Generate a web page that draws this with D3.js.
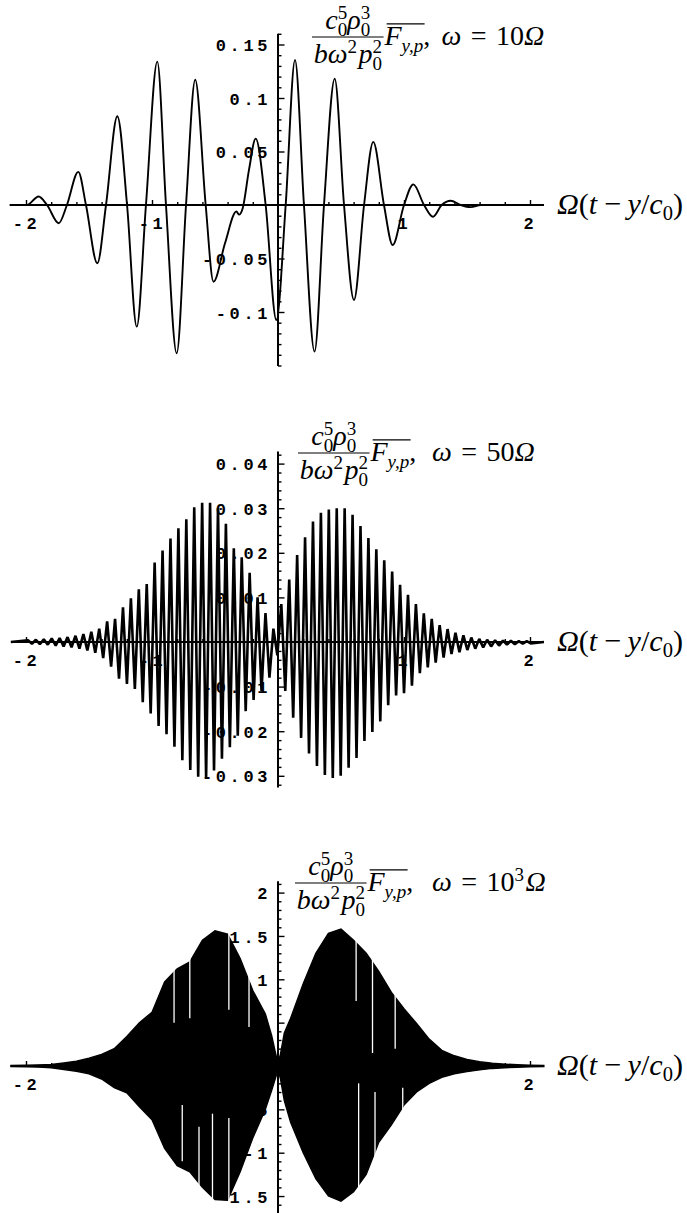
<!DOCTYPE html>
<html><head><meta charset="utf-8">
<script src="https://cdn.jsdelivr.net/npm/d3@7"></script>
<style>body{margin:0;background:#fff}svg{display:block}</style>
</head><body><svg id="c" width="687" height="1213"></svg>
<script>
// ---------------- DATA ----------------
const xMajorTicks = [-2, -1, 1, 2];
const xTickLabels = ["-2", "-1", "1", "2"];

// Panel 1 (omega = 10 Omega): extrema and zero crossings
const topX = [-2.13,-1.992,-1.90,-1.833,-1.74,-1.675,-1.585,-1.524,-1.434,-1.365,-1.275,-1.198,-1.121,-1.048,-0.958,-0.889,-0.804,-0.730,-0.657,-0.574,-0.512,-0.42,-0.33,-0.31,-0.28,-0.23,-0.177,-0.098,-0.013,0.061,0.135,0.206,0.29,0.365,0.45,0.524,0.603,0.683,0.756,0.841,0.91,1.0,1.074,1.159,1.23,1.299,1.37,1.45,1.53,1.61,2.11];
const topY = [0,0,0.008,0,-0.017,0,0.031,0,-0.0545,0,0.083,0,-0.1137,0,0.134,0,-0.1386,0,0.117,0,-0.0717,-0.0355,-0.006,-0.009,-0.003,0.033,0.062,0,-0.1075,0,0.1355,0,-0.137,0,0.118,0,-0.0888,0,0.059,0,-0.0374,0,0.0193,0,-0.011,0,0.004,0,-0.002,0,0];
const topYTicks = [-0.1, -0.05, 0.05, 0.1, 0.15];
const topYLabels = ["-0.1", "-0.05", "0.05", "0.1", "0.15"];

// Panel 2 (omega = 50 Omega): positive and negative tip of each oscillation
const midStart = -2, midPeriod = Math.PI / 50;
const midUpper = [0.0004,0.0005,0.0006,0.0008,0.0009,0.0011,0.0014,0.0018,0.0023,0.003,
  0.0046,0.0052,0.0078,0.0098,0.0118,0.013,0.0178,0.0205,0.0232,0.0255,
  0.0275,0.0302,0.0312,0.0312,0.030,0.0265,0.021,0.019,0.0155,0.010,
  0.0065,0.003,0.0085,0.014,0.0195,0.0235,0.027,0.029,0.0297,0.030,
  0.030,0.0285,0.026,0.0233,0.0208,0.0183,0.0158,0.0128,0.0106,0.0085,
  0.0064,0.0052,0.0038,0.0029,0.0021,0.0015,0.001,0.0007,0.0005,0.0004,
  0.0003,0.0003,0.0002,0.0002];
const midLower = [-0.0004,-0.0005,-0.0006,-0.0008,-0.001,-0.0012,-0.0015,-0.0019,-0.0024,-0.0036,
  -0.0055,-0.0082,-0.0094,-0.0105,-0.0135,-0.016,-0.0188,-0.0207,-0.0235,-0.0265,
  -0.0287,-0.0302,-0.0305,-0.0288,-0.0262,-0.0236,-0.021,-0.0155,-0.013,-0.011,
  -0.008,-0.003,-0.011,-0.017,-0.0215,-0.025,-0.0278,-0.0298,-0.0305,-0.030,
  -0.0282,-0.026,-0.0222,-0.0202,-0.0178,-0.0142,-0.012,-0.0115,-0.0098,-0.007,
  -0.0057,-0.0046,-0.0035,-0.0027,-0.0023,-0.0018,-0.0015,-0.0012,-0.001,-0.0008,
  -0.0006,-0.0005,-0.0004,-0.0003];
const midYTicks = [-0.03, -0.02, -0.01, 0.01, 0.02, 0.03, 0.04];
const midYLabels = ["-0.03", "-0.02", "-0.01", "0.01", "0.02", "0.03", "0.04"];

// Panel 3 (omega = 10^3 Omega): upper and lower envelope of the dense oscillation
const botX = [-2.12,-2.0,-1.9,-1.8,-1.7,-1.6,-1.5,-1.4,-1.3,-1.2,-1.1,-1.0,-0.9,-0.8,-0.7,-0.6,-0.5,-0.4,-0.3,-0.2,-0.1,-0.05,-0.02,0.0,0.02,0.05,0.1,0.2,0.3,0.4,0.5,0.6,0.7,0.8,0.9,1.0,1.1,1.2,1.3,1.4,1.5,1.6,1.7,1.8,1.9,2.0,2.11];
const botUpper = [0.006,0.01,0.013,0.018,0.035,0.055,0.09,0.135,0.2,0.34,0.5,0.62,0.97,1.12,1.2,1.45,1.56,1.52,1.24,0.87,0.6,0.35,0.15,0.03,0.14,0.38,0.55,0.95,1.3,1.53,1.58,1.45,1.3,1.09,0.85,0.66,0.49,0.31,0.18,0.118,0.075,0.05,0.032,0.022,0.015,0.01,0.006];
const botLower = [-0.006,-0.01,-0.013,-0.02,-0.04,-0.06,-0.09,-0.15,-0.25,-0.31,-0.47,-0.62,-0.95,-1.15,-1.22,-1.4,-1.54,-1.55,-1.22,-0.83,-0.5,-0.28,-0.14,-0.04,-0.15,-0.4,-0.65,-1.0,-1.3,-1.5,-1.56,-1.45,-1.25,-0.88,-0.68,-0.45,-0.3,-0.2,-0.13,-0.09,-0.065,-0.045,-0.028,-0.02,-0.015,-0.01,-0.006];
// white sampling gaps visible inside the filled band: x, from value, to value
const botGapX    = [-0.825, -0.70, -0.39, -0.23, -0.76, -0.627, -0.52, -0.39, 0.62, 0.75, 0.93, 0.64, 0.77, 0.99];
const botGapFrom = [0.5, 0.55, 0.65, 0.45, -0.45, -0.7, -0.55, -0.6, 0.75, 0.15, 0.2, -0.2, -0.3, -0.25];
const botGapTo   = [1.3, 1.25, 1.6, 1.2, -1.1, -1.5, -1.6, -1.6, 1.6, 1.4, 0.9, -1.6, -1.1, -0.6];
const botYTicks = [-1.5, -1, -0.5, 0.5, 1, 1.5, 2];
const botYLabels = ["-1.5", "-1", "-0.5", "0.5", "1", "1.5", "2"];

// ---------------- DRAWING ----------------
const svg = d3.select("#c");
const TICKFONT = "'Liberation Mono','Courier New',monospace";
const MF = "'Liberation Serif','Times New Roman',serif";
const x = d3.scaleLinear().domain([-2, 2]).range([26, 530]);
const xExtent = [-2.12, 2.11];

function drawAxes(y, yExt, yTicks, yLabels, yMinorStep) {
  const g = svg.append("g");
  const y0 = y(0), x0 = x(0);
  const xMinor = d3.range(-2, 2.001, 0.2).map(v => +v.toFixed(2)).filter(v => Math.abs(v - Math.round(v)) > 1e-6);
  g.append("g").attr("transform", `translate(0,${y0})`)
    .call(d3.axisBottom(x).tickValues(xMinor).tickSize(-3).tickSizeOuter(0).tickFormat(""));
  g.append("g").attr("transform", `translate(0,${y0})`)
    .call(d3.axisBottom(x).tickValues(xMajorTicks).tickSize(-5).tickSizeOuter(0).tickPadding(12)
      .tickFormat((d, i) => xTickLabels[i]));
  const yMinor = d3.range(Math.ceil(yExt[1] / yMinorStep), Math.floor(yExt[0] / yMinorStep) + 1)
    .map(k => +(k * yMinorStep).toFixed(4)).filter(v => v !== 0 && !yTicks.some(t => Math.abs(t - v) < 1e-9));
  g.append("g").attr("transform", `translate(${x0},0)`)
    .call(d3.axisLeft(y).tickValues(yMinor).tickSize(-3.5).tickSizeOuter(0).tickFormat(""));
  const gy = g.append("g").attr("transform", `translate(${x0},0)`)
    .call(d3.axisLeft(y).tickValues(yTicks).tickSize(-6.5).tickSizeOuter(0).tickPadding(7)
      .tickFormat((d, i) => yLabels[i]));
  g.selectAll(".domain").remove();
  g.selectAll(".tick line").attr("stroke", "#000").attr("stroke-width", 1.4);
  g.selectAll(".tick text").attr("font-family", TICKFONT).attr("font-size", 17).attr("font-weight", "bold")
    .attr("letter-spacing", 3.6).attr("fill", "#000");
  gy.selectAll(".tick text").attr("dy", "0.36em");
  g.append("line").attr("x1", x(xExtent[0])).attr("x2", x(xExtent[1])).attr("y1", y0).attr("y2", y0)
    .attr("stroke", "#000").attr("stroke-width", 2);
  g.append("line").attr("x1", x0).attr("x2", x0).attr("y1", y(yExt[0])).attr("y2", y(yExt[1]))
    .attr("stroke", "#000").attr("stroke-width", 2);
  return g;
}

// lays out math pieces as tspans of one <text>; stacked sub/superscripts share the same x
function layoutRun(txt, items, fs, x0, y0) {
  let cx = x0;
  for (const it of items) {
    if (it.sp !== undefined) { cx += it.sp * fs; continue; }
    const parts = it.stack ? it.stack : [it];
    let w = 0;
    for (const s of parts) {
      const t = txt.append("tspan").attr("x", cx).attr("y", y0 + (s.dy || 0) * fs)
        .attr("font-size", (s.sz || 1) * fs).attr("font-style", s.it ? "italic" : "normal").text(s.t);
      w = Math.max(w, t.node().getComputedTextLength());
    }
    cx += w;
  }
  return cx - x0;
}

const SUP = -0.36, SUB = 0.24, SS = 0.68;
function drawTitle(omegaItems, left, barY, omegaX) {
  const fs = 28;
  const g = svg.append("g").attr("font-family", MF).attr("fill", "#000")
    .attr("transform", `translate(${left},${barY})`);
  const txt = g.append("text");
  const numItems = [{t: "c", it: 1}, {stack: [{t: "5", sz: SS, dy: SUP}, {t: "0", sz: SS, dy: SUB}]},
    {t: "ρ", it: 1}, {stack: [{t: "3", sz: SS, dy: SUP}, {t: "0", sz: SS, dy: SUB}]}];
  const denItems = [{t: "b", it: 1}, {t: "ω", it: 1}, {t: "2", sz: SS, dy: SUP}, {sp: 0.05}, {t: "p", it: 1},
    {stack: [{t: "2", sz: SS, dy: SUP}, {t: "0", sz: SS, dy: SUB + 0.03}]}];
  const probe = g.append("text");
  const wn = layoutRun(probe, numItems, fs, 0, 0);
  probe.selectAll("*").remove();
  const wd = layoutRun(probe, denItems, fs, 0, 0);
  probe.remove();
  const fw = Math.max(wn, wd) + 0.12 * fs;
  layoutRun(txt, numItems, fs, (fw - wn) / 2, -0.28 * fs);
  layoutRun(txt, denItems, fs, (fw - wd) / 2, 0.92 * fs);
  g.append("line").attr("x1", 0).attr("x2", fw).attr("y1", 0).attr("y2", 0).attr("stroke", "#000").attr("stroke-width", 1.1);
  const base = 0.29 * fs;
  const fStart = fw + 0.03 * fs;
  const wF = layoutRun(txt, [{t: "F", it: 1}, {t: "y,p", it: 1, sz: SS, dy: SUB}], fs, fStart, base);
  g.append("line").attr("x1", fStart + 0.08 * fs).attr("x2", fStart + wF + 0.05 * fs)
    .attr("y1", base - 0.76 * fs).attr("y2", base - 0.76 * fs).attr("stroke", "#000").attr("stroke-width", 1.1);
  const wc = layoutRun(txt, [{t: ","}], fs, fStart + wF, base);
  const ox = Math.max(omegaX - left, fStart + wF + wc + 0.4 * fs);
  layoutRun(txt, omegaItems, fs, ox, base);
}

function drawXLabel(y0) {
  const fs = 24;
  const outer = svg.append("g").attr("font-family", MF).attr("fill", "#000");
  const txt = outer.append("text");
  const w = layoutRun(txt, [{t: "Ω", it: 1}, {t: "("}, {t: "t", it: 1}, {sp: 0.22}, {t: "−"}, {sp: 0.22},
    {t: "y", it: 1}, {t: "/"}, {t: "c", it: 1}, {t: "0", sz: SS, dy: 0.2}, {t: ")"}], fs, 0, 0);
  const s = 126 / w;
  outer.attr("transform", `translate(557,${y0 + 9}) scale(${s})`);
}

const EQ = 0.34;
// ---- Panel 1
{
  const y = d3.scaleLinear().domain([0, 0.1]).range([205, 98]);
  drawAxes(y, [0.16, -0.1505], topYTicks, topYLabels, 0.01);
  const pts = topX.map((v, i) => [v, topY[i]]);
  svg.append("path").datum(pts).attr("fill", "none").attr("stroke", "#000").attr("stroke-width", 1.9)
    .attr("stroke-linejoin", "round")
    .attr("d", d3.line().x(d => x(d[0])).y(d => y(d[1])).curve(d3.curveMonotoneX));
  drawTitle([{t: "ω", it: 1}, {sp: EQ}, {t: "="}, {sp: EQ}, {t: "10"}, {t: "Ω", it: 1}], 312, 37, 436);
  drawXLabel(y(0));
}
// ---- Panel 2
{
  const y = d3.scaleLinear().domain([0, 0.01]).range([642, 597.4]);
  drawAxes(y, [0.0427, -0.0326], midYTicks, midYLabels, 0.002);
  const pts = [[xExtent[0], 0]];
  midUpper.forEach((u, k) => {
    const xc = midStart + k * midPeriod;
    pts.push([xc + midPeriod * 0.25, u]);
    pts.push([xc + midPeriod * 0.75, midLower[k]]);
  });
  pts.push([xExtent[1], 0]);
  svg.append("path").datum(pts).attr("fill", "none").attr("stroke", "#000").attr("stroke-width", 2.6)
    .attr("stroke-linejoin", "bevel")
    .attr("d", d3.line().x(d => x(d[0])).y(d => y(d[1])));
  drawTitle([{t: "ω", it: 1}, {sp: EQ}, {t: "="}, {sp: EQ}, {t: "50"}, {t: "Ω", it: 1}], 298, 453, 432);
  drawXLabel(y(0));
}
// ---- Panel 3
{
  const y = d3.scaleLinear().domain([0, 1]).range([1066, 979.3]);
  drawAxes(y, [2.13, -1.8], botYTicks, botYLabels, 0.1);
  const pts = botX.map((v, i) => ({x: v, hi: botUpper[i], lo: botLower[i]}));
  svg.append("path").datum(pts).attr("fill", "#000").attr("stroke", "#000").attr("stroke-width", 1.4)
    .attr("d", d3.area().x(d => x(d.x)).y0(d => y(d.lo)).y1(d => y(d.hi)));
  svg.append("g").selectAll("line").data(botGapX).join("line")
    .attr("x1", d => x(d)).attr("x2", d => x(d))
    .attr("y1", (d, i) => y(botGapFrom[i])).attr("y2", (d, i) => y(botGapTo[i]))
    .attr("stroke", "#fff").attr("stroke-width", 1.3);
  drawTitle([{t: "ω", it: 1}, {sp: EQ}, {t: "="}, {sp: EQ}, {t: "10"}, {t: "3", sz: SS, dy: SUP}, {sp: 0.05}, {t: "Ω", it: 1}], 295, 883, 432);
  drawXLabel(y(0));
}
</script></body></html>
